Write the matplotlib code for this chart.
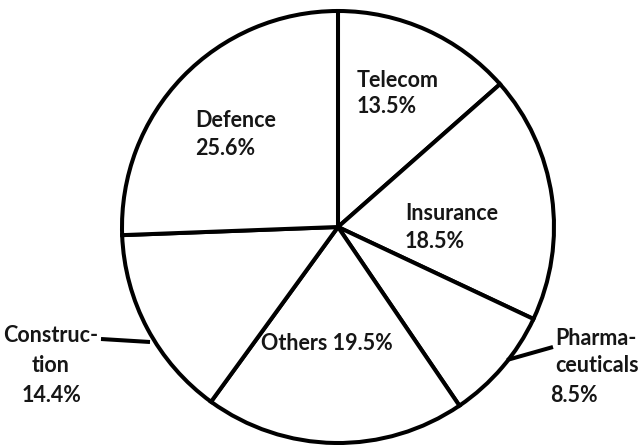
import matplotlib
matplotlib.use("Agg")
import matplotlib.pyplot as plt

# Sector shares (%), clockwise from 12 o'clock
sectors = ["Telecom", "Insurance", "Pharmaceuticals", "Others", "Construction", "Defence"]
shares = [13.5, 18.5, 8.5, 19.5, 14.4, 25.6]

W, H = 643, 445
fig = plt.figure(figsize=(W / 100, H / 100), dpi=100)
ax = fig.add_axes([0, 0, 1, 1])

cx, cy, r = 338, H - 227, 216
ax.pie(shares, startangle=90, counterclock=False, center=(cx, cy), radius=r,
       colors=["white"] * len(shares),
       wedgeprops=dict(edgecolor="black", linewidth=2.9), frame=True)
ax.set_xlim(0, W)
ax.set_ylim(0, H)
ax.set_aspect("equal")
ax.axis("off")

font = dict(family=["Lato", "DejaVu Sans"], fontweight="bold", fontsize=15.5,
            color="#161616", va="baseline")


def pct(name):
    return f"{shares[sectors.index(name)]:.1f}%"


def line(x, y_top, s, ha="left"):
    """Draw one text line; y_top is the baseline measured from the top edge."""
    ax.text(x, H - y_top, s, ha=ha, **font)


line(357, 87, "Telecom")
line(357, 113, pct("Telecom"))

line(195, 127, "Defence")
line(195, 155, pct("Defence"))

line(405, 220, "Insurance")
line(405, 248, pct("Insurance"))

line(327, 350, "Others " + pct("Others"), ha="center")

line(51, 342, "Construc-", ha="center")
line(51, 372, "tion", ha="center")
line(52, 402, pct("Construction"), ha="center")

line(555, 345, "Pharma-")
line(555, 372, "ceuticals")
line(550, 402, pct("Pharmaceuticals"))

# leader lines
ax.plot([101, 150], [H - 339, H - 342], color="black", lw=2.9, solid_capstyle="butt")
ax.plot([507, 553], [H - 360, H - 347], color="black", lw=2.9, solid_capstyle="butt")

fig.savefig("out.png", dpi=100, facecolor="white")
